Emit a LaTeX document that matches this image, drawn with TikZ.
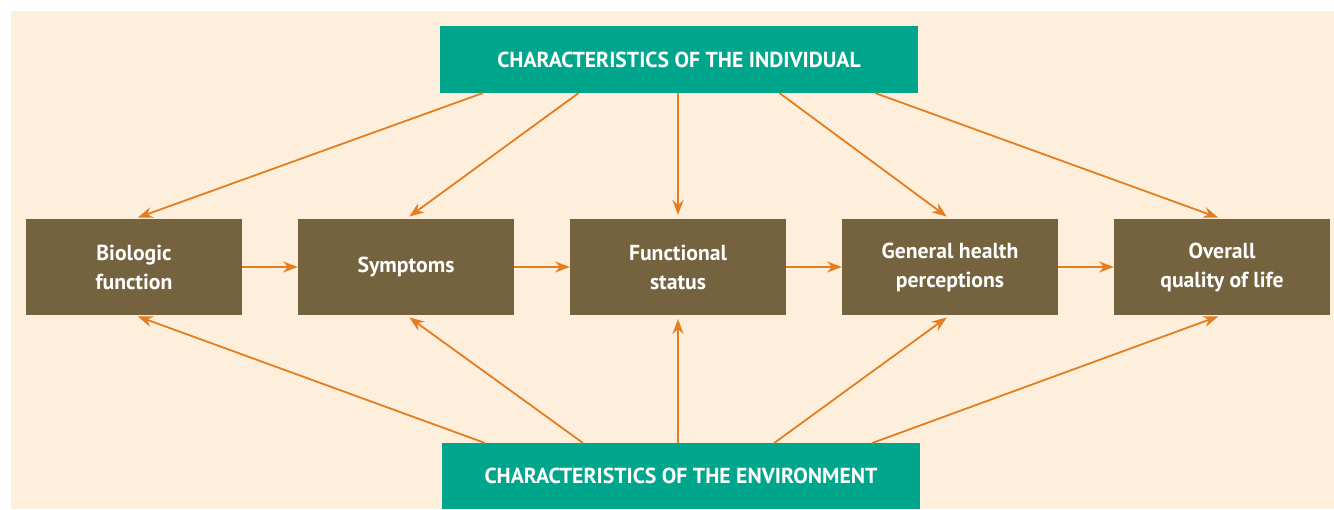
\documentclass[tikz,border=0pt]{standalone}
\usepackage{fontspec}
\setmainfont{PT Sans}
\usetikzlibrary{arrows.meta,calc}
\definecolor{bgcream}{HTML}{FEEFDC}
\definecolor{charteal}{HTML}{00A68C}
\definecolor{boxbrown}{HTML}{756340}
\definecolor{arrorange}{HTML}{E37D1F}
\tikzset{
  charbox/.style={fill=charteal, text=white, minimum width=478pt, minimum height=67pt, outer sep=0pt, font=\fontsize{21.7}{29}\selectfont\bfseries},
  stagebox/.style={fill=boxbrown, text=white, minimum width=216pt, minimum height=96pt, outer sep=0pt, align=center, font=\fontsize{21.7}{29}\selectfont\bfseries},
  link/.style={arrorange, line width=1.8pt, -{Stealth[length=15pt,width=11pt,inset=5pt]}, shorten >=4pt}
}
\begin{document}
\begin{tikzpicture}[x=1pt, y=-1pt]
    \useasboundingbox[fill=white] (0,0) rectangle (1334,509);
    \fill[bgcream] (11,11) rectangle (1334,509);

    \node[charbox] at (679, 59.5) (ind) {CHARACTERISTICS OF THE INDIVIDUAL};
    \node[charbox, minimum height=66pt] at (681, 476) (env) {CHARACTERISTICS OF THE ENVIRONMENT};

    \node[stagebox] at (134, 267)  (bio) {Biologic\\function};
    \node[stagebox] at (406, 267)  (sym) {Symptoms};
    \node[stagebox] at (678, 267)  (fun) {Functional\\status};
    \node[stagebox] at (950, 267)  (gen) {General health\\perceptions};
    \node[stagebox] at (1222, 267) (ovr) {Overall\\quality of life};

%   chain of stages
    \draw[link, shorten >=0pt] (bio) -- (sym);
    \draw[link, shorten >=0pt] (sym) -- (fun);
    \draw[link, shorten >=0pt] (fun) -- (gen);
    \draw[link, shorten >=0pt] (gen) -- (ovr);

%   individual -> stages
    \draw[link] ($(ind.south west)!0.09!(ind.south east)$) -- (bio.north);
    \draw[link] ($(ind.south west)!0.29!(ind.south east)$) -- (sym.north);
    \draw[link] (fun.north |- ind.south) -- (fun.north);
    \draw[link] ($(ind.south west)!0.71!(ind.south east)$) -- (gen.north);
    \draw[link] ($(ind.south west)!0.91!(ind.south east)$) -- (ovr.north);

%   environment -> stages
    \draw[link] ($(env.north west)!0.09!(env.north east)$) -- (bio.south);
    \draw[link] ($(env.north west)!0.295!(env.north east)$) -- (sym.south);
    \draw[link] (fun.south |- env.north) -- (fun.south);
    \draw[link] ($(env.north west)!0.695!(env.north east)$) -- (gen.south);
    \draw[link] ($(env.north west)!0.90!(env.north east)$) -- (ovr.south);
\end{tikzpicture}
\end{document}
